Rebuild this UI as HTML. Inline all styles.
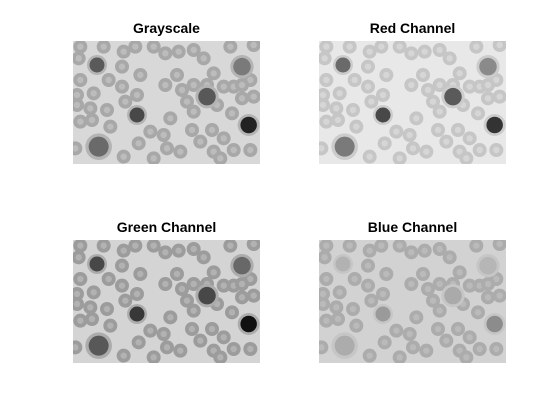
<!DOCTYPE html>
<html><head><meta charset="utf-8"><style>
html,body{margin:0;padding:0;background:#fff;}
svg{display:block}
text{font-family:"Liberation Sans",Arial,sans-serif;font-weight:bold;font-size:14px;fill:#000}
</style></head>
<body>
<svg id="fig" width="560" height="420" viewBox="0 0 560 420">
<rect width="560" height="420" fill="#fff"/>
</svg>
<script>
const rbcX=[60,130,190,225,280,315,355,400,430,510,580,55,185,240,350,400,460,520,570,60,145,185,315,365,440,490,545,50,100,230,195,380,470,545,580,50,90,140,330,400,515,60,95,150,270,310,395,455,490,420,570,235,320,360,190,520,460,45,480,280];
const rbcY=[95,95,110,95,95,115,110,105,130,95,90,130,155,180,180,210,175,215,195,195,195,215,210,225,210,215,210,240,235,240,260,260,270,250,245,270,280,285,310,290,295,320,315,335,350,360,345,345,370,380,405,385,400,410,425,405,410,400,430,430];
const wbcX=[110,545,440,230,565,115];
const wbcY=[150,155,245,300,330,395];
const wbcR=[30,35,35,30,33,40];
const panels=[
 {name:'grayscale',title:'Grayscale',x:73,y:41,bg:'#d8d8d8',rbc:'#a8a8a8',rc:'#bcbcbc',wb:'#b4b4b4',nuc:['#5a5a5a','#7a7a7a','#585858','#484848','#222','#6a6a6a']},
 {name:'red-channel',title:'Red Channel',x:319,y:41,bg:'#e8e8e8',rbc:'#c6c6c6',rc:'#d6d6d6',wb:'#cccccc',nuc:['#6a6a6a','#8a8a8a','#5a5a5a','#484848','#333','#7a7a7a']},
 {name:'green-channel',title:'Green Channel',x:73,y:240,bg:'#d4d4d4',rbc:'#9c9c9c',rc:'#b2b2b2',wb:'#acacac',nuc:['#484848','#686868','#484848','#383838','#111','#585858']},
 {name:'blue-channel',title:'Blue Channel',x:319,y:240,bg:'#d2d2d2',rbc:'#acacac',rc:'#bababa',wb:'#c6c6c6',nuc:['#b2b2b2','#b6b6b6','#aaa','#9a9a9a','#8c8c8c','#acacac']}
];
const NS='http://www.w3.org/2000/svg';
const fig=document.getElementById('fig');
const W=187,H=123;
function lx(v){return (v-38)/3;}
function ly(v){return (v-78)/3;}
function mk(tag,attrs,parent){const e=document.createElementNS(NS,tag);for(const k in attrs)e.setAttribute(k,attrs[k]);parent.appendChild(e);return e;}
panels.forEach(p=>{
  const g=mk('g',{transform:'translate('+p.x+','+p.y+')'},fig);
  
  
  const cid='clip-'+p.name;
  const cp=mk('clipPath',{id:cid},g);mk('rect',{width:W,height:H},cp);
  const inner=mk('g',{'clip-path':'url(#'+cid+')'},g);
  mk('rect',{width:W,height:H,fill:p.bg},inner);
  for(let i=0;i<rbcX.length;i++){
    const c=mk('circle',{cx:lx(rbcX[i]),cy:ly(rbcY[i]),r:7,fill:p.rbc},inner);
    
    
    mk('circle',{cx:lx(rbcX[i]),cy:ly(rbcY[i]),r:3.2,fill:p.rc},inner);
  }
  for(let i=0;i<wbcX.length;i++){
    const c=mk('circle',{cx:lx(wbcX[i]),cy:ly(wbcY[i]),r:wbcR[i]/3,fill:p.wb},inner);
    
    
    mk('circle',{cx:lx(wbcX[i]),cy:ly(wbcY[i]),r:wbcR[i]/3*0.75,fill:p.nuc[i]},inner);
  }
  const t=mk('text',{x:p.x+W/2,y:p.y-8,'text-anchor':'middle'},fig);
  t.textContent=p.title;
  
  
});
</script>
</body></html>
